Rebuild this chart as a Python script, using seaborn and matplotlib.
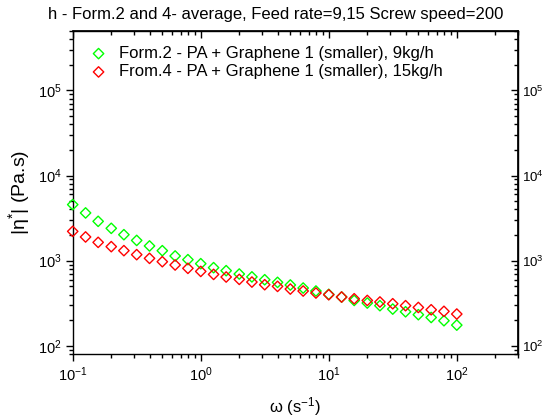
import numpy as np
import pandas as pd
import matplotlib
matplotlib.use("Agg")
import matplotlib.pyplot as plt
import seaborn as sns
from matplotlib.ticker import LogLocator, NullFormatter

# Data
omega = [0.1, 0.126, 0.158, 0.2, 0.251, 0.316, 0.398, 0.501, 0.631, 0.794,
         1.0, 1.26, 1.58, 2.0, 2.51, 3.16, 3.98, 5.01, 6.31, 7.94,
         10.0, 12.6, 15.8, 20.0, 25.1, 31.6, 39.8, 50.1, 63.1, 79.4, 100.0]
eta_form2 = [4560, 3640, 2900, 2400, 2020, 1730, 1490, 1310, 1136, 1028,
             922, 828, 763, 697, 645, 597, 556, 518, 477, 440,
             402, 374, 341, 318, 296, 270, 251, 232, 215, 197, 175]
eta_form4 = [2210, 1900, 1642, 1462, 1312, 1177, 1065, 973, 890, 813,
             748, 690, 643, 603, 561, 522, 499, 464, 440, 417,
             398, 374, 357, 341, 327, 312, 296, 282, 265, 254, 236]
label_form2 = "Form.2 - PA + Graphene 1 (smaller), 9kg/h"
label_form4 = "From.4 - PA + Graphene 1 (smaller), 15kg/h"
title = "h - Form.2 and 4- average, Feed rate=9,15 Screw speed=200"

sns.set_theme(style="white")
plt.rcParams['font.family'] = ['Liberation Sans', 'DejaVu Sans']
plt.rcParams['mathtext.default'] = 'regular'
plt.rcParams['text.color'] = 'black'
plt.rcParams['axes.labelcolor'] = 'black'
plt.rcParams['xtick.color'] = 'black'
plt.rcParams['ytick.color'] = 'black'

fig = plt.figure(figsize=(5.48, 4.17), dpi=100)
ax = fig.add_axes([0.1327, 0.151, 0.945 - 0.1327, 0.9257 - 0.151])

df2 = pd.DataFrame({"omega": omega, "eta": eta_form2})
df4 = pd.DataFrame({"omega": omega, "eta": eta_form4})
sns.scatterplot(data=df2, x="omega", y="eta", ax=ax, marker="D", s=28,
                facecolors="none", edgecolors="#00ff00", linewidth=1.0,
                label=label_form2, clip_on=False, zorder=3)
sns.scatterplot(data=df4, x="omega", y="eta", ax=ax, marker="D", s=28,
                facecolors="none", edgecolors="#ff0000", linewidth=1.0,
                label=label_form4, clip_on=False, zorder=3)

ax.set_xscale("log")
ax.set_yscale("log")
ax.set_xlim(0.1, 300)
ax.set_ylim(80, 5e5)

for sp in ax.spines.values():
    sp.set_color("black")
    sp.set_linewidth(1.0)

ax.xaxis.set_major_locator(LogLocator(base=10, numticks=10))
ax.xaxis.set_minor_locator(LogLocator(base=10, subs=np.arange(2, 10), numticks=20))
ax.yaxis.set_major_locator(LogLocator(base=10, numticks=10))
ax.yaxis.set_minor_locator(LogLocator(base=10, subs=np.arange(2, 10), numticks=20))
ax.xaxis.set_minor_formatter(NullFormatter())
ax.yaxis.set_minor_formatter(NullFormatter())
ax.tick_params(which="major", direction="out", length=5, width=1, colors="black",
               labelsize=10.5, bottom=True, left=True, top=False, right=False, pad=3)
ax.tick_params(which="minor", direction="out", length=3, width=1, colors="black",
               bottom=True, left=True, top=False, right=False)

# mirrored axes with inward ticks
secy = ax.secondary_yaxis("right")
secy.yaxis.set_major_locator(LogLocator(base=10, numticks=10))
secy.yaxis.set_minor_locator(LogLocator(base=10, subs=np.arange(2, 10), numticks=20))
secy.yaxis.set_minor_formatter(NullFormatter())
secy.tick_params(which="major", direction="in", length=5, width=1, labelsize=9.5,
                 colors="black", pad=3)
secy.tick_params(which="minor", direction="in", length=3, width=1, colors="black")
secy.spines["right"].set_color("black")
secy.yaxis.offsetText.set_visible(False)

secx = ax.secondary_xaxis("top")
secx.xaxis.set_major_locator(LogLocator(base=10, numticks=10))
secx.xaxis.set_minor_locator(LogLocator(base=10, subs=np.arange(2, 10), numticks=20))
secx.xaxis.set_major_formatter(NullFormatter())
secx.xaxis.set_minor_formatter(NullFormatter())
secx.tick_params(which="major", direction="in", length=5, width=1, colors="black")
secx.tick_params(which="minor", direction="in", length=3, width=1, colors="black")
secx.spines["top"].set_color("black")
secx.xaxis.offsetText.set_visible(False)

ax.set_xlabel("ω (s$^{-1}$)", fontsize=12, labelpad=8)
ax.set_ylabel("|η$^{*}$| (Pa.s)", fontsize=14, labelpad=4)
fig.text(0.503, 0.965, title, fontsize=12, ha="center", va="center")

leg = ax.legend(loc="upper left", frameon=False, fontsize=12,
                handletextpad=0.55, borderaxespad=0.5, labelspacing=0.2,
                handlelength=1.3, borderpad=0.4)

fig.savefig("out.png", dpi=100)
